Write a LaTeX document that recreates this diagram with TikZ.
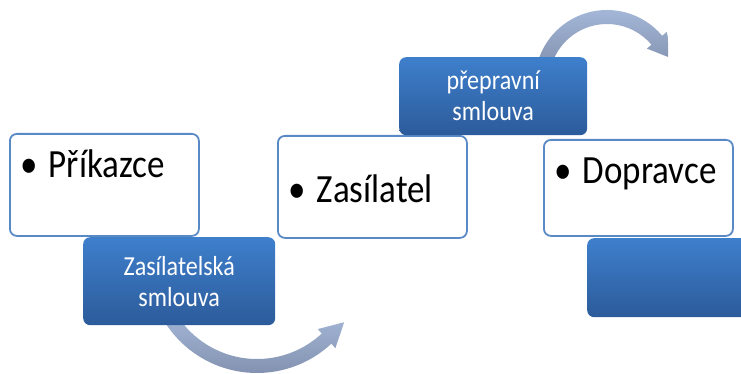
\documentclass[tikz,border=0pt]{standalone}
\usepackage{fontspec}
\setmainfont{Carlito}
\newfontfamily\tallfont[FakeStretch=0.875]{Carlito}
\usepackage{xcolor}
\usetikzlibrary{calc, positioning}
\definecolor{boxline}{HTML}{5A8AC6}
\definecolor{bluetop}{HTML}{3E7FCC}
\definecolor{bluebot}{HTML}{2C5B9A}
\definecolor{arclight}{HTML}{A9BCDD}
\definecolor{arcdark}{HTML}{8291AF}
\newcommand{\listdot}{\makebox[28pt][l]{\textbullet}}

\begin{document}
\begin{tikzpicture}[x=1pt,y=1pt]
    % Define node styles
    \tikzstyle{party} = [rectangle, draw=boxline, line width=1.8pt, rounded corners=7pt, fill=white, inner xsep=11pt, inner ysep=0pt, text width=167pt, align=left, anchor=north west, font=\tallfont\fontsize{40}{46}\selectfont]
    \tikzstyle{contract} = [rectangle, rounded corners=7pt, top color=bluetop, bottom color=bluebot, text=white, align=center, inner sep=0pt, anchor=north west, font=\tallfont\fontsize{27.5}{31}\selectfont]
    \tikzstyle{turn} = [top color=arclight, bottom color=arcdark]

    \useasboundingbox (0,0) rectangle (741,-374);

    % Centres of the two curved arrows
    \coordinate (c1) at (257,-264);
    \coordinate (c2) at (607,-82);

    % Lower curved arrow
    \path[turn] ($(c1)+(205:109)$) arc[start angle=205, end angle=313, radius=109]
        -- ($(c1)+(313:115)$) -- ($(c1)+(313:102)+(43:24)$) -- ($(c1)+(313:89)$)
        -- ($(c1)+(313:95)$) arc[start angle=313, end angle=205, radius=95] -- cycle;

    % Upper curved arrow (its head is cut off on the right)
    \begin{scope}
        \clip (0,0) rectangle (668,-374);
        \path[turn] ($(c2)+(165:72)$) arc[start angle=165, end angle=40, radius=72]
            -- ($(c2)+(40:78)$) -- ($(c2)+(40:65)+(-50:24)$) -- ($(c2)+(40:52)$)
            -- ($(c2)+(40:58)$) arc[start angle=40, end angle=165, radius=58] -- cycle;
    \end{scope}

    % Parties
    \node[party, text height=44pt, text depth=58pt] (prikazce) at (9,-133) {\listdot Příkazce};
    \node[party, text height=67pt, text depth=35pt] (zasilatel) at (277,-135) {\listdot Zasílatel};
    \node[party, text height=44pt, text depth=52pt] (dopravce) at (543,-139) {\listdot Dopravce};

    % Contracts
    \node[contract, minimum width=192pt, minimum height=88pt] (zsmlouva) at (83,-237) {Zasílatelská\\smlouva};
    \node[contract, minimum width=188pt, minimum height=78pt] (psmlouva) at (399,-57) {přepravní\\smlouva};
    \node[contract, minimum width=170pt, minimum height=79pt] (prazdna) at (587,-238) {};

\end{tikzpicture}
\end{document}
